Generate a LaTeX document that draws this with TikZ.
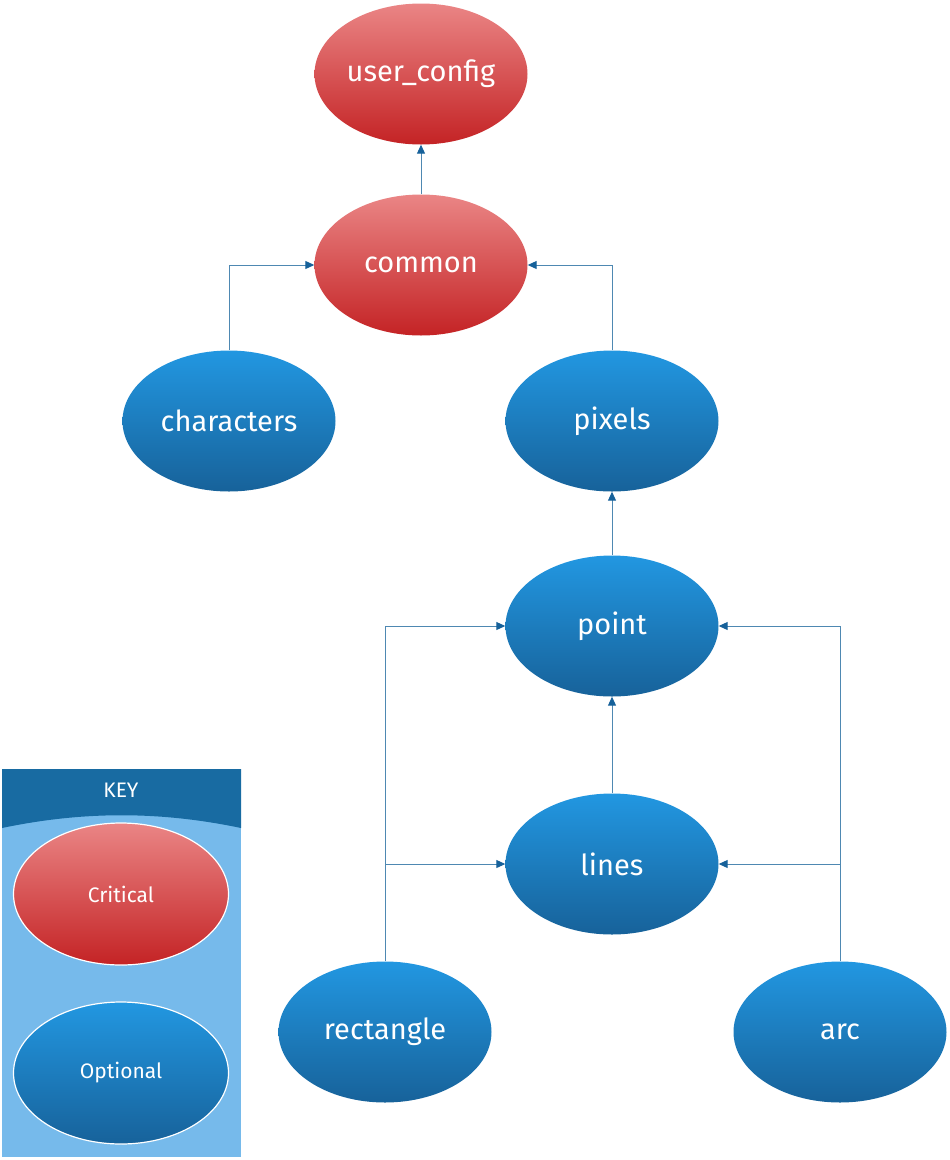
\documentclass[tikz,border=0pt]{standalone}
\usepackage{fontspec}
\setmainfont{Fira Sans}
\usetikzlibrary{shapes.geometric,arrows.meta}
\definecolor{redtop}{HTML}{EA8585}
\definecolor{redbot}{HTML}{C42325}
\definecolor{bluetop}{HTML}{2297E1}
\definecolor{bluebot}{HTML}{17629A}
\definecolor{keydark}{HTML}{186BA2}
\definecolor{keylight}{HTML}{76BAEB}
\definecolor{linec}{HTML}{4E88B2}
\definecolor{tipc}{HTML}{16619A}
\tikzset{
  x=1pt,y=-1pt,
  blob/.style={ellipse,minimum width=213pt,minimum height=141pt,inner sep=0pt,text=white,font=\fontsize{29}{32}\selectfont},
  crit/.style={blob,top color=redtop,bottom color=redbot},
  opt/.style={blob,top color=bluetop,bottom color=bluebot},
  keyblob/.style={ellipse,minimum width=215pt,minimum height=142pt,inner sep=0pt,text=white,draw=white,line width=1.2pt,font=\fontsize{21}{24}\selectfont},
  conn/.style={draw=linec,line width=1pt,-{Triangle[length=9pt,width=8pt,fill=tipc,color=tipc]}},
  plain/.style={draw=linec,line width=1pt}
}
\begin{document}
\begin{tikzpicture}
\useasboundingbox (0,0) rectangle (950,1160);
% nodes
\node[crit] (uc) at (421,74) {user\_config};
\node[crit] (com) at (421,265) {common};
\node[opt] (chr) at (229,421) {characters};
\node[opt] (pix) at (612,421) {pixels};
\node[opt] (pt) at (612,626) {point};
\node[opt] (ln) at (612,864) {lines};
\node[opt] (rect) at (385,1032) {rectangle};
\node[opt] (arc) at (840,1032) {arc};
% connectors
\draw[conn] (com.north) -- (uc.south);
\draw[conn] (chr.north) |- (com.west);
\draw[conn] (pix.north) |- (com.east);
\draw[conn] (pt.north) -- (pix.south);
\draw[conn] (ln.north) -- (pt.south);
\draw[conn] (rect.north) |- (pt.west);
\coordinate (rj) at (rect.north |- ln.west);
\draw[conn] (rj) -- (ln.west);
\draw[conn] (arc.north) |- (pt.east);
\coordinate (aj) at (arc.north |- ln.east);
\draw[conn] (aj) -- (ln.east);
% key
\fill[keylight] (2,769) rectangle (241,1157);
\fill[keydark] (2,769) -- (241,769) -- (241,828) .. controls (160,811) and (83,811) .. (2,828) -- cycle;
\node[text=white,font=\fontsize{21}{24}\selectfont] (keyt) at (121,790) {KEY};
\node[keyblob,top color=redtop,bottom color=redbot] (kc) at (121,894) {Critical};
\node[keyblob,top color=bluetop,bottom color=bluebot] (ko) at (121,1073) {Optional};
\end{tikzpicture}
\end{document}
